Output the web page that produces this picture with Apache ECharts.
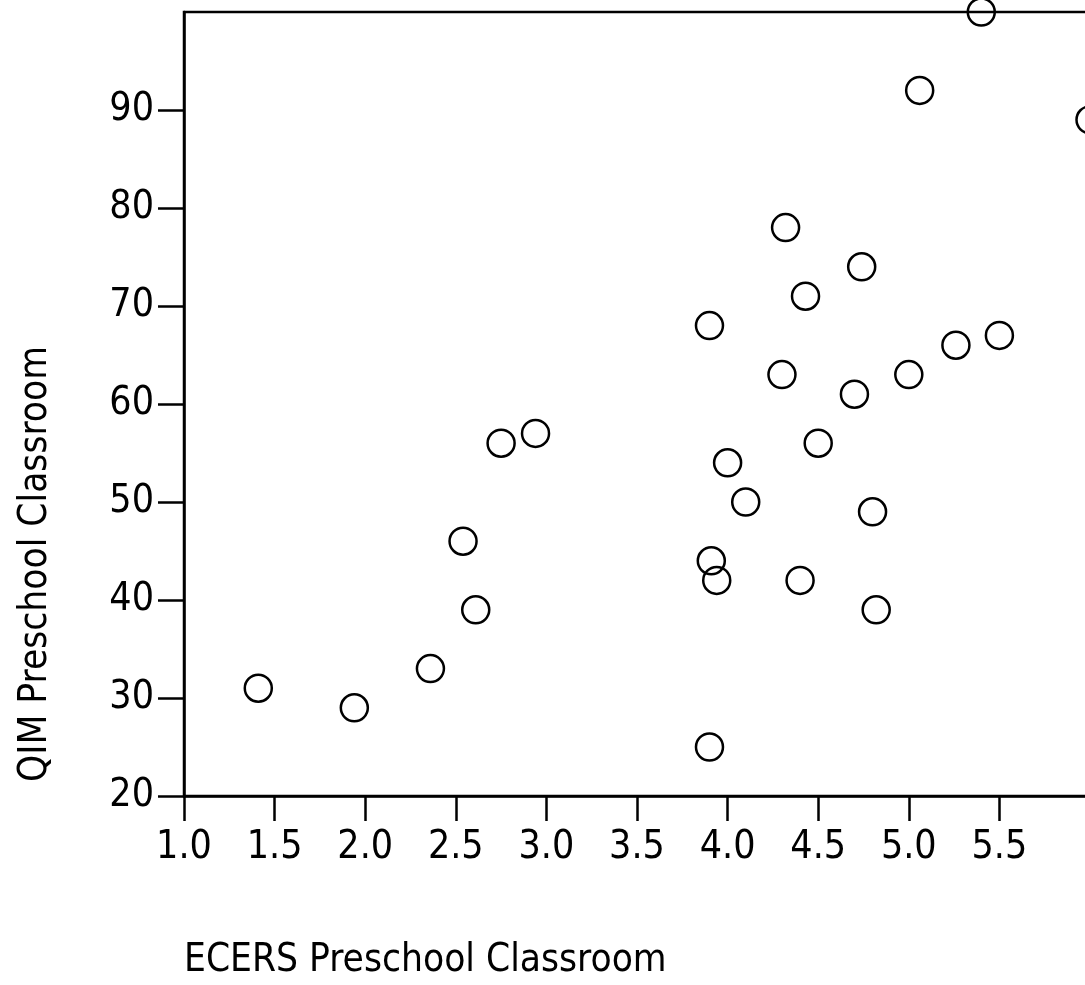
<!DOCTYPE html>
<html>
<head>
<meta charset="utf-8">
<script src="https://cdn.jsdelivr.net/npm/echarts@6/dist/echarts.min.js"></script>
<style>
  html, body { margin: 0; padding: 0; background: #fff; }
  #chart { width: 1085px; height: 985px; }
</style>
</head>
<body>
<div id="chart"></div>
<script>
// ECERS score (x) for each classroom
const ecers = [1.41, 1.94, 2.36, 2.54, 2.61, 2.75, 2.94, 3.90, 3.91, 3.94, 3.90, 4.00, 4.10, 4.30, 4.32, 4.43, 4.40, 4.50, 4.70, 4.74, 4.80, 4.82, 5.00, 5.06, 5.26, 5.40, 5.50, 6.00];
// QIM score (y) for each classroom
const qim   = [31,   29,   33,   46,   39,   56,   57,   68,   44,   42,   25,   54,   50,   63,   78,   71,   42,   56,   61,   74,   49,   39,   63,   92,   66,   100,  67,   89];
const yTicks = [20, 30, 40, 50, 60, 70, 80, 90];
const xTicks = [1.0, 1.5, 2.0, 2.5, 3.0, 3.5, 4.0, 4.5, 5.0, 5.5];
const xTitle = 'ECERS Preschool Classroom';
const yTitle = 'QIM Preschool Classroom';

const FONT = 'DejaVu Sans Condensed';
const points = ecers.map((x, i) => [x, qim[i]]);

const chart = echarts.init(document.getElementById('chart'), null, { renderer: 'canvas' });
chart.setOption({
  backgroundColor: '#fff',
  animation: false,
  grid: {
    left: 184, top: 12, width: 906, height: 784,
    containLabel: false,
    outerBoundsMode: 'none',
    show: true, borderColor: '#000', borderWidth: 2.5, backgroundColor: 'transparent'
  },
  xAxis: {
    type: 'value', min: 1, max: 6, interval: 0.5,
    splitLine: { show: false },
    axisLine: { show: true, onZero: false, lineStyle: { color: '#000', width: 2.5 } },
    axisTick: { show: true, length: 25, customValues: xTicks, lineStyle: { color: '#000', width: 2.5 } },
    axisLabel: {
      customValues: xTicks,
      formatter: v => v.toFixed(1),
      color: '#000', fontFamily: FONT, fontSize: 39, margin: 32
    },
    name: xTitle, nameLocation: 'start', nameGap: 0, nameMoveOverlap: false,
    nameTextStyle: { color: '#000', fontFamily: FONT, fontSize: 38.5, align: 'left', verticalAlign: 'top', padding: [145, 0, 0, 0] }
  },
  yAxis: {
    type: 'value', min: 20, max: 100, interval: 10,
    splitLine: { show: false },
    axisLine: { show: true, onZero: false, lineStyle: { color: '#000', width: 2.5 } },
    axisTick: { show: true, length: 26, customValues: yTicks, lineStyle: { color: '#000', width: 2.5 } },
    axisLabel: {
      customValues: yTicks,
      color: '#000', fontFamily: FONT, fontSize: 39, margin: 30
    },
    name: yTitle, nameLocation: 'start', nameGap: -14, nameRotate: 90, nameMoveOverlap: false,
    nameTextStyle: { color: '#000', fontFamily: FONT, fontSize: 38.5, align: 'left', verticalAlign: 'bottom', padding: [0, 0, 129, 0] }
  },
  series: [{
    type: 'scatter',
    data: points,
    symbol: 'circle',
    symbolSize: 27,
    clip: false,
    itemStyle: { color: 'rgba(255,255,255,0)', borderColor: '#000', borderWidth: 2.5, opacity: 1 },
    emphasis: { disabled: true }
  }]
});
</script>
</body>
</html>
